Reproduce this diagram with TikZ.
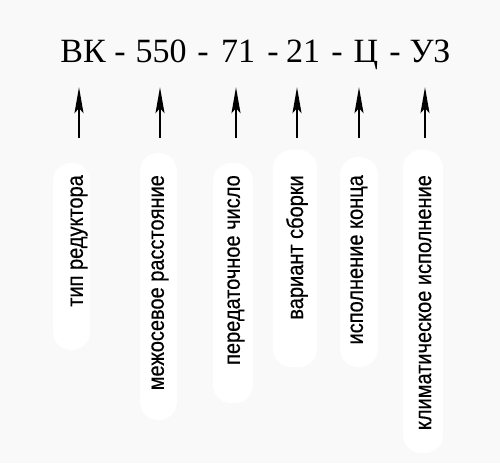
\documentclass[tikz,border=0pt]{standalone}
\usepackage{fontspec}
\setmainfont{Liberation Serif}
\setsansfont[FakeStretch=0.87,FakeBold=0.5]{Liberation Sans}
\usetikzlibrary{arrows.meta}
\definecolor{paper}{HTML}{F9F9F9}

\begin{document}
\begin{tikzpicture}[x=1pt,y=-1pt]
		\tikzstyle{Code}  = [inner sep=0pt, text depth=0pt, anchor=base, font=\fontsize{34}{34}\selectfont]
		\tikzstyle{Label} = [inner sep=0pt, rotate=90, anchor=east, font=\sffamily\fontsize{23}{23}\selectfont]
		\tikzstyle{Pill}  = [fill=white, rounded corners=18pt]
		\tikzstyle{Arrow} = [-{Stealth[length=26pt,width=9pt,inset=5pt]}, line width=1.7pt, shorten <=37pt, shorten >=25pt]

		\fill [paper] (0,0) rectangle (500,463);
		\fill [Pill] (53,163) rectangle (90,350);
		\fill [Pill] (140,153) rectangle (177,420);
		\fill [Pill] (213,163) rectangle (253,403);
		\fill [Pill] (273,150) rectangle (317,367);
		\fill [Pill] (340,157) rectangle (378,367);
		\fill [Pill] (403,150) rectangle (443,453);

		\node (c1) at (83,62) [Code] {ВК};
		\node (d1) at (120,62) [Code] {-};
		\node (c2) at (161,62) [Code] {550};
		\node (d2) at (203,62) [Code] {-};
		\node (c3) at (238,62) [Code] {71};
		\node (d3) at (273,62) [Code] {-};
		\node (c4) at (303,62) [Code] {21};
		\node (d4) at (337,62) [Code] {-};
		\node (c5) at (366,62) [Code] {Ц};
		\node (d5) at (395,62) [Code] {-};
		\node (c6) at (430,62) [Code] {УЗ};

		\node (l1) at (79,175) [Label] {тип редуктора};
		\node (l2) at (160,175) [Label] {межосевое расстояние};
		\node (l3) at (236,175) [Label] {передаточное число};
		\node (l4) at (297,175) [Label] {вариант сборки};
		\node (l5) at (359,175) [Label] {исполнение конца};
		\node (l6) at (425,175) [Label] {климатическое исполнение};

		\draw [Arrow] (l1.east) -- (l1.east |- c1.south);
		\draw [Arrow] (l2.east) -- (l2.east |- c2.south);
		\draw [Arrow] (l3.east) -- (l3.east |- c3.south);
		\draw [Arrow] (l4.east) -- (l4.east |- c4.south);
		\draw [Arrow] (l5.east) -- (l5.east |- c5.south);
		\draw [Arrow] (l6.east) -- (l6.east |- c6.south);
	\end{tikzpicture}
\end{document}
